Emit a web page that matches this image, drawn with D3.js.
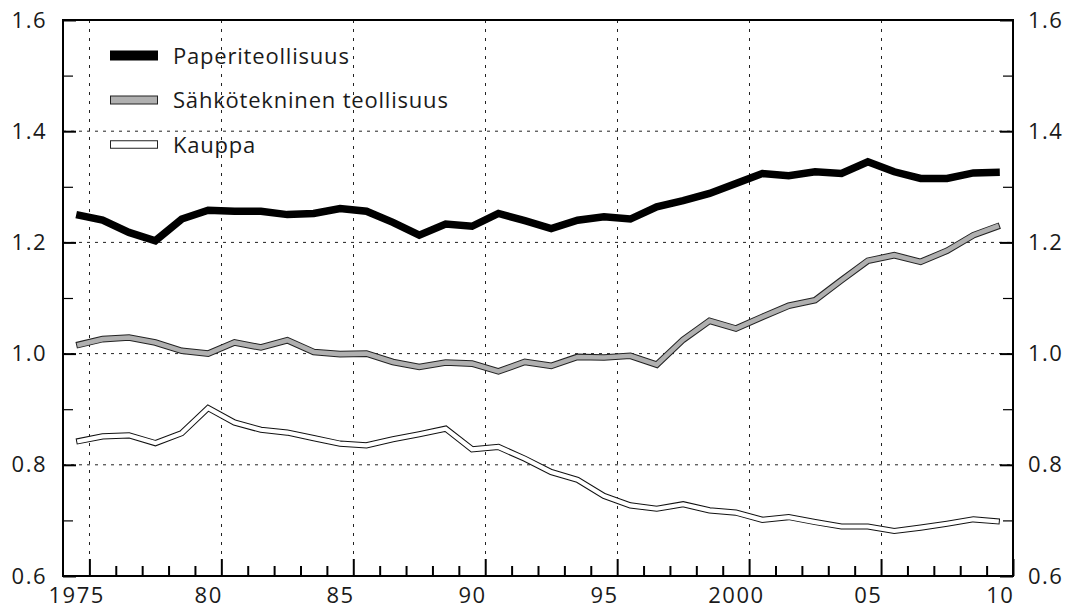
<!DOCTYPE html>
<html>
<head>
<meta charset="utf-8">
<script src="https://cdn.jsdelivr.net/npm/d3@7"></script>
<style>
  html, body { margin: 0; padding: 0; background: #fff; }
  svg { display: block; }
  text { font-family: "Open Sans", "DejaVu Sans", sans-serif; fill: #1a1a1a; }
</style>
</head>
<body>
<svg id="chart" width="1074" height="609"></svg>
<script>
const years = [1975,1976,1977,1978,1979,1980,1981,1982,1983,1984,1985,1986,1987,1988,1989,1990,1991,1992,1993,1994,1995,1996,1997,1998,1999,2000,2001,2002,2003,2004,2005,2006,2007,2008,2009,2010];
const paperiteollisuus = [1.250,1.240,1.218,1.203,1.242,1.258,1.256,1.256,1.250,1.252,1.261,1.256,1.236,1.213,1.233,1.229,1.252,1.239,1.225,1.240,1.246,1.242,1.264,1.275,1.288,1.306,1.324,1.320,1.327,1.324,1.345,1.327,1.315,1.315,1.325,1.326];
const sahkotekninen = [1.015,1.026,1.029,1.020,1.005,1.000,1.020,1.011,1.024,1.003,0.999,1.000,0.985,0.976,0.984,0.982,0.968,0.985,0.978,0.994,0.993,0.996,0.980,1.025,1.059,1.045,1.066,1.086,1.096,1.132,1.167,1.177,1.165,1.185,1.213,1.230];
const kauppa = [0.842,0.851,0.853,0.839,0.857,0.902,0.876,0.863,0.858,0.848,0.838,0.835,0.846,0.855,0.865,0.828,0.832,0.811,0.787,0.773,0.744,0.727,0.721,0.729,0.718,0.714,0.701,0.706,0.697,0.689,0.689,0.681,0.687,0.694,0.702,0.698];
const seriesNames = ["Paperiteollisuus", "Sähkötekninen teollisuus", "Kauppa"];
const yMajorTicks = [0.6,0.8,1.0,1.2,1.4,1.6];
const yMinorTicks = [0.7,0.9,1.1,1.3,1.5];
const yGridTicks = [0.8,1.0,1.2,1.4];
const xLabelYears = [1975,1980,1985,1990,1995,2000,2005,2010];
const xLabelTexts = ["1975","80","85","90","95","2000","05","10"];
const xMajorTickPos = [1975.5,1980.5,1985.5,1990.5,1995.5,2000.5,2005.5,2010.5];
const xGridPos = [1975.5,1980.5,1985.5,1990.5,1995.5,2000.5,2005.5];
const xMinorTickPos = [1976.5,1977.5,1978.5,1979.5,1981.5,1982.5,1983.5,1984.5,1986.5,1987.5,1988.5,1989.5,1991.5,1992.5,1993.5,1994.5,1996.5,1997.5,1998.5,1999.5,2001.5,2002.5,2003.5,2004.5,2006.5,2007.5,2008.5,2009.5];

const L = 63, R = 1013, T = 20, B = 576;
const svg = d3.select("#chart");
const x = d3.scaleLinear().domain([1974.5, 2010.5]).range([L, R]);
const y = d3.scaleLinear().domain([0.6, 1.6]).range([B, T]);

// grid
const grid = svg.append("g");
grid.selectAll("line.h").data(yGridTicks).join("line")
  .attr("x1", L).attr("x2", R)
  .attr("y1", d => y(d)).attr("y2", d => y(d))
  .attr("stroke", "#222").attr("stroke-width", 1).attr("stroke-dasharray", "3,5");
grid.selectAll("line.v").data(xGridPos).join("line")
  .attr("y1", T).attr("y2", B)
  .attr("x1", d => Math.round(x(d)) + 0.5).attr("x2", d => Math.round(x(d)) + 0.5)
  .attr("stroke", "#222").attr("stroke-width", 1).attr("stroke-dasharray", "3,6");

// axes
const fmt = d3.format(".1f");
function styleAxis(g, w) {
  g.select(".domain").remove();
  g.selectAll(".tick line").attr("stroke", "#000").attr("stroke-width", w);
  g.selectAll("text").attr("font-size", 22).attr("letter-spacing", "1.5px").attr("fill", "#1a1a1a");
}
svg.append("g").attr("transform", `translate(${L},0)`)
  .call(d3.axisLeft(y).tickValues(yMajorTicks).tickFormat(fmt).tickSizeInner(-13).tickSizeOuter(0).tickPadding(16))
  .call(g => styleAxis(g, 2));
svg.append("g").attr("transform", `translate(${L},0)`)
  .call(d3.axisLeft(y).tickValues(yMinorTicks).tickFormat("").tickSizeInner(-10).tickSizeOuter(0))
  .call(g => styleAxis(g, 1.2));
svg.append("g").attr("transform", `translate(${R},0)`)
  .call(d3.axisRight(y).tickValues(yMajorTicks).tickFormat(fmt).tickSizeInner(-13).tickSizeOuter(0).tickPadding(15))
  .call(g => styleAxis(g, 2));
svg.append("g").attr("transform", `translate(${R},0)`)
  .call(d3.axisRight(y).tickValues(yMinorTicks).tickFormat("").tickSizeInner(-10).tickSizeOuter(0))
  .call(g => styleAxis(g, 1.2));
svg.append("g").attr("transform", `translate(0,${B})`)
  .call(d3.axisBottom(x).tickValues(xMajorTickPos).tickFormat("").tickSizeInner(-17).tickSizeOuter(0))
  .call(g => styleAxis(g, 2));
svg.append("g").attr("transform", `translate(0,${B})`)
  .call(d3.axisBottom(x).tickValues(xMinorTickPos).tickFormat("").tickSizeInner(-10).tickSizeOuter(0))
  .call(g => styleAxis(g, 2));
svg.append("g").attr("transform", `translate(0,${B})`)
  .call(d3.axisBottom(x).tickValues(xLabelYears).tickFormat((d, i) => xLabelTexts[i]).tickSize(0).tickPadding(11))
  .call(g => { styleAxis(g, 0); g.selectAll(".tick line").remove(); });

// frame
svg.append("rect").attr("x", L).attr("y", T).attr("width", R - L).attr("height", B - T)
  .attr("fill", "none").attr("stroke", "#000").attr("stroke-width", 2);

// lines
const toPts = vals => years.map((yr, i) => ({ yr, v: vals[i] }));
const n = years.length;
const line = d3.line().x(d => x(d.yr)).y(d => y(d.v));
const innerLine = d3.line().x((d, i) => x(d.yr) + (i === 0 ? 1 : i === n - 1 ? -1 : 0)).y(d => y(d.v));
const plot = svg.append("g");

// Kauppa
plot.append("path").datum(toPts(kauppa)).attr("d", line)
  .attr("fill", "none").attr("stroke", "#111").attr("stroke-width", 6.2);
plot.append("path").datum(toPts(kauppa)).attr("d", innerLine)
  .attr("fill", "none").attr("stroke", "#fff").attr("stroke-width", 4.2);
// Sähkötekninen
plot.append("path").datum(toPts(sahkotekninen)).attr("d", line)
  .attr("fill", "none").attr("stroke", "#222").attr("stroke-width", 6.6);
plot.append("path").datum(toPts(sahkotekninen)).attr("d", innerLine)
  .attr("fill", "none").attr("stroke", "#b0b0b0").attr("stroke-width", 4.6);
// Paperiteollisuus
plot.append("path").datum(toPts(paperiteollisuus)).attr("d", line)
  .attr("fill", "none").attr("stroke", "#000").attr("stroke-width", 7.5);

// legend
const legend = svg.append("g");
const legY = [55.5, 100, 144.5];
const legFill = ["#000", "#b0b0b0", "#fff"];
const legH = [9, 8, 7.5];
seriesNames.forEach((name, i) => {
  legend.append("rect").attr("x", 110.5).attr("y", legY[i] - legH[i] / 2)
    .attr("width", 47).attr("height", legH[i])
    .attr("fill", legFill[i]).attr("stroke", i === 0 ? "#000" : "#222").attr("stroke-width", 1);
  legend.append("text").attr("x", 173).attr("y", legY[i] + 8)
    .attr("font-size", 22).attr("letter-spacing", "0.8px").text(name);
});
</script>
</body>
</html>
